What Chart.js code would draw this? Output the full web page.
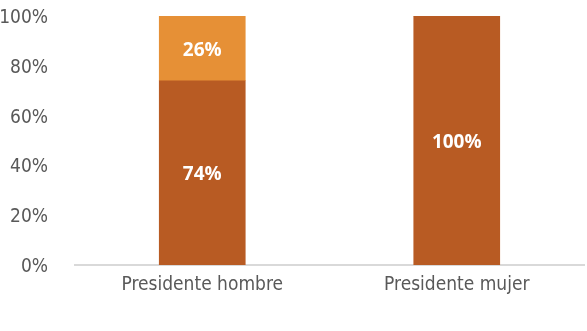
<!DOCTYPE html>
<html>
<head>
<meta charset="utf-8">
<script src="https://cdn.jsdelivr.net/npm/chart.js@4/dist/chart.umd.min.js"></script>
<style>
  html, body { margin: 0; padding: 0; background: #fff; }
  #wrap { width: 587px; height: 331px; }
</style>
</head>
<body>
<div id="wrap"><canvas id="chart"></canvas></div>
<script>
const categories = ['Presidente hombre', 'Presidente mujer'];
const shareLower = [74, 100];
const shareUpper = [26, 0];
const yTicks = [0, 20, 40, 60, 80, 100];

const narrowFont = '"Liberation Sans Narrow", "DejaVu Sans Condensed", "Roboto Condensed", sans-serif';

// writes the percentage in the middle of each segment
const segmentLabels = {
    id: 'segmentLabels',
    afterDatasetsDraw(chart) {
        const ctx = chart.ctx;
        ctx.save();
        ctx.font = 'bold 19px "Open Sans", sans-serif';
        ctx.fillStyle = '#ffffff';
        ctx.textAlign = 'center';
        ctx.textBaseline = 'middle';
        chart.data.datasets.forEach((ds, i) => {
            chart.getDatasetMeta(i).data.forEach((bar, j) => {
                const v = ds.data[j];
                if (!v) return;
                const y = (bar.y + bar.base) / 2 + 2;
                ctx.fillText(v + '%', bar.x, y);
            });
        });
        ctx.restore();
    }
};

new Chart(document.getElementById('chart'), {
    type: 'bar',
    data: {
        labels: categories,
        datasets: [
            { data: shareLower, backgroundColor: '#b85b23' },
            { data: shareUpper, backgroundColor: '#e69036' }
        ]
    },
    options: {
        responsive: true,
        maintainAspectRatio: false,
        animation: false,
        layout: { padding: { top: 16, right: 3, left: 0, bottom: 0 } },
        plugins: { legend: { display: false }, tooltip: { enabled: false } },
        datasets: { bar: { barThickness: 86 } },
        scales: {
            x: {
                stacked: true,
                grid: { display: false, drawTicks: false },
                border: { display: true, color: '#d9d9d9', width: 2 },
                ticks: {
                    color: '#595959',
                    padding: 9,
                    font: { family: narrowFont, size: 19 }
                },
                afterFit(scale) { scale.height = 66; }
            },
            y: {
                stacked: true,
                min: 0,
                max: 100,
                grid: { display: false, drawTicks: false },
                border: { display: false },
                afterBuildTicks(scale) { scale.ticks = yTicks.map(v => ({ value: v })); },
                ticks: {
                    color: '#595959',
                    padding: 27,
                    labelOffset: 2,
                    font: { family: narrowFont, size: 19 },
                    callback: v => v + '%'
                },
                // fixed gutter; tick padding must not push the plot down
                afterFit(scale) {
                    scale.width = 75;
                    scale.paddingTop = 0;
                    scale.paddingBottom = 0;
                }
            }
        }
    },
    plugins: [segmentLabels]
});
</script>
</body>
</html>
